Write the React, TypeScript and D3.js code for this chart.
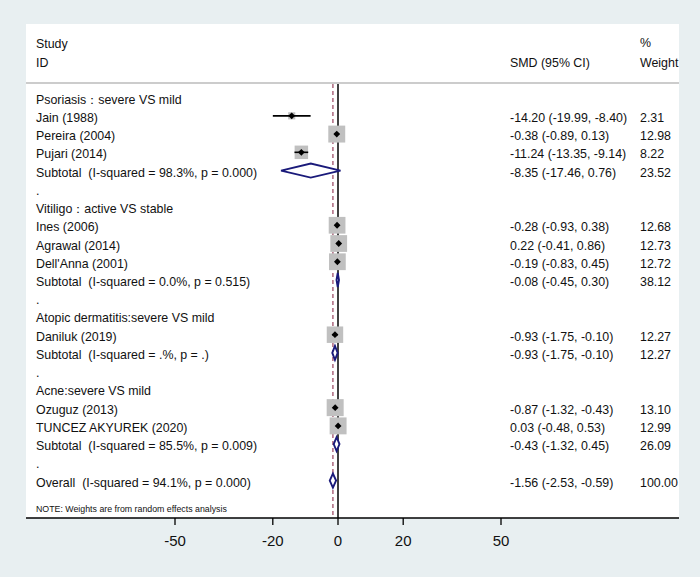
import React from "react";
import * as d3 from "d3";

const labels = [
  "Psoriasis：severe VS mild",
  "Jain (1988)",
  "Pereira (2004)",
  "Pujari (2014)",
  "Subtotal  (I-squared = 98.3%, p = 0.000)",
  ".",
  "Vitiligo：active VS stable",
  "Ines (2006)",
  "Agrawal (2014)",
  "Dell'Anna (2001)",
  "Subtotal  (I-squared = 0.0%, p = 0.515)",
  ".",
  "Atopic dermatitis:severe VS mild",
  "Daniluk (2019)",
  "Subtotal  (I-squared = .%, p = .)",
  ".",
  "Acne:severe VS mild",
  "Ozuguz (2013)",
  "TUNCEZ AKYUREK (2020)",
  "Subtotal  (I-squared = 85.5%, p = 0.009)",
  ".",
  "Overall  (I-squared = 94.1%, p = 0.000)",
];
const rowTypes = [
  "group", "study", "study", "study", "sub", "blank",
  "group", "study", "study", "study", "sub", "blank",
  "group", "study", "sub", "blank",
  "group", "study", "study", "sub", "blank",
  "overall",
];
const est = [null, -14.2, -0.38, -11.24, -8.35, null, null, -0.28, 0.22, -0.19, -0.08, null, null, -0.93, -0.93, null, null, -0.87, 0.03, -0.43, null, -1.56];
const lo = [null, -19.99, -0.89, -13.35, -17.46, null, null, -0.93, -0.41, -0.83, -0.45, null, null, -1.75, -1.75, null, null, -1.32, -0.48, -1.32, null, -2.53];
const hi = [null, -8.4, 0.13, -9.14, 0.76, null, null, 0.38, 0.86, 0.45, 0.3, null, null, -0.1, -0.1, null, null, -0.43, 0.53, 0.45, null, -0.59];
const weights = [null, 2.31, 12.98, 8.22, 23.52, null, null, 12.68, 12.73, 12.72, 38.12, null, null, 12.27, 12.27, null, null, 13.1, 12.99, 26.09, null, 100.0];
const tickValues = [-50, -20, 0, 20, 50];
const overallEst = -1.56;

const FONT = "Arial, 'Liberation Sans', Helvetica, sans-serif";

export default function App() {
  const W = 700, H = 577;
  const x = d3.scaleLinear().domain([-50, 50]).range([175, 501]);
  const y = d3.scaleLinear().domain([0, 21]).range([97.6, 480.6]);
  const panel = { l: 26, r: 679, t: 24, b: 518 };
  const fs = 12.4;
  const fmt = (v: number) => v.toFixed(2);
  const pre = { whiteSpace: "pre" } as React.CSSProperties;

  const diamondPath = (i: number) => {
    const cy = y(i);
    const h = 7;
    return `M${x(lo[i] as number)},${cy} L${x(est[i] as number)},${cy - h} L${x(hi[i] as number)},${cy} L${x(est[i] as number)},${cy + h} Z`;
  };

  return (
    <svg width={W} height={H} style={{ position: "absolute", left: 0, top: 0 }} fontFamily={FONT}>
      <rect x={0} y={0} width={W} height={H} fill="#e8eff1" />
      <rect x={panel.l} y={panel.t} width={panel.r - panel.l} height={panel.b - panel.t} fill="#ffffff" />
      {/* headers */}
      <text x={36} y={48} fontSize={fs} fill="#111">Study</text>
      <text x={36} y={66.5} fontSize={fs} fill="#111">ID</text>
      <text x={510} y={66.5} fontSize={fs} fill="#111">SMD (95% CI)</text>
      <text x={640} y={47} fontSize={fs} fill="#111">%</text>
      <text x={640} y={66.5} fontSize={fs} fill="#111">Weight</text>
      <line x1={panel.l} x2={panel.r} y1={83} y2={83} stroke="#cccccc" strokeWidth={2} />

      {/* reference lines */}
      <line x1={x(0)} x2={x(0)} y1={84} y2={panel.b} stroke="#000" strokeWidth={1.5} />
      <line x1={x(overallEst)} x2={x(overallEst)} y1={84} y2={panel.b} stroke="#a0506a" strokeWidth={1.3} strokeDasharray="4,3" />

      {/* rows */}
      {labels.map((lab, i) => {
        const t = rowTypes[i];
        const by = y(i) + 6;
        return (
          <g key={i}>
            <text x={36} y={by} fontSize={fs} fill="#111" style={pre}>{lab}</text>
            {est[i] !== null && (
              <>
                <text x={510} y={by} fontSize={fs} fill="#111">
                  {`${fmt(est[i] as number)} (${fmt(lo[i] as number)}, ${fmt(hi[i] as number)})`}
                </text>
                <text x={640} y={by} fontSize={fs} fill="#111">{fmt(weights[i] as number)}</text>
              </>
            )}
            {t === "study" && (() => {
              const s = 4.7 * Math.sqrt(weights[i] as number);
              const cx = x(est[i] as number);
              const cy = y(i);
              const d = 3.4;
              return (
                <g>
                  <rect x={cx - s / 2} y={cy - s / 2} width={s} height={s} fill="#c0c0c0" />
                  <line x1={x(lo[i] as number)} x2={x(hi[i] as number)} y1={cy} y2={cy} stroke="#000" strokeWidth={1.6} />
                  <path d={`M${cx - d},${cy} L${cx},${cy - d} L${cx + d},${cy} L${cx},${cy + d} Z`} fill="#000" />
                </g>
              );
            })()}
            {(t === "sub" || t === "overall") && (
              <path d={diamondPath(i)} fill="#ffffff" stroke="#1a1a7a" strokeWidth={1.9} />
            )}
          </g>
        );
      })}

      <text x={36} y={512} fontSize={8.8} fill="#111">NOTE: Weights are from random effects analysis</text>

      {/* axis */}
      <line x1={panel.l} x2={panel.r} y1={panel.b} y2={panel.b} stroke="#000" strokeWidth={1.5} />
      {tickValues.map((v) => (
        <g key={v}>
          <line x1={x(v)} x2={x(v)} y1={panel.b} y2={panel.b + 7} stroke="#000" strokeWidth={1.3} />
          <text x={x(v)} y={546} fontSize={15} textAnchor="middle" fill="#111">{v}</text>
        </g>
      ))}
    </svg>
  );
}
